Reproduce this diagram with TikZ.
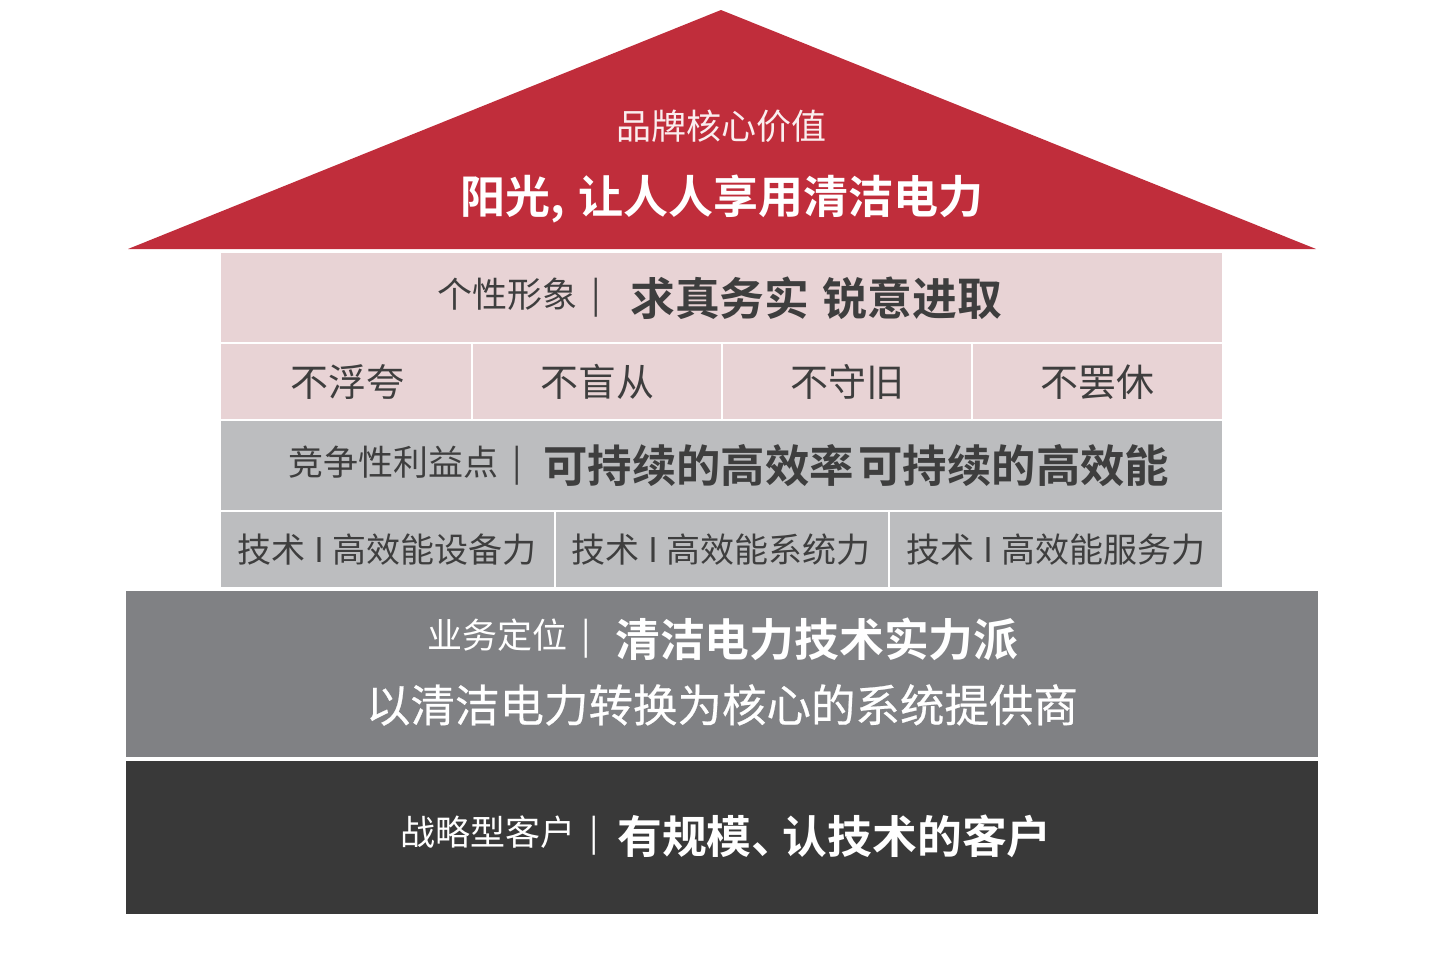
\documentclass[tikz,border=0pt]{standalone}
\usepackage{fontspec}
\newfontfamily\cjk{Noto Sans CJK SC}
\newfontfamily\cjkm[FakeBold=0.5]{Noto Sans CJK SC}
\newfontfamily\cjkb{Noto Sans CJK SC Bold}
\definecolor{roofred}{HTML}{C02D3B}
\definecolor{pinkbg}{HTML}{E8D3D5}
\definecolor{lightbg}{HTML}{BCBDBF}
\definecolor{midbg}{HTML}{808184}
\definecolor{darkbg}{HTML}{393939}
\definecolor{txtdark}{HTML}{3E3E3E}
\tikzset{
  lbl/.style={inner sep=0pt, font=\cjk\fontsize{35}{40}\selectfont},
  bld/.style={inner sep=0pt, font=\cjkb\fontsize{44.8}{50}\selectfont},
  cell/.style={inner sep=0pt, font=\cjk\fontsize{38}{44}\selectfont, text=txtdark},
  tech/.style={inner sep=0pt, font=\cjk\fontsize{34}{40}\selectfont, text=txtdark},
}
\newcommand{\pipesep}{\hspace{0.4em}|}
\begin{document}
\begin{tikzpicture}[x=1pt,y=-1pt]
\path[use as bounding box, fill=white] (0,0) rectangle (1449,959);
% roof
\fill[roofred] (128,249) -- (721,10) -- (1316,249) -- cycle;
% pink block
\fill[pinkbg] (221,253) rectangle (1222,342);
\fill[pinkbg] (221,344) rectangle (471,419);
\fill[pinkbg] (473,344) rectangle (721,419);
\fill[pinkbg] (723,344) rectangle (971,419);
\fill[pinkbg] (973,344) rectangle (1222,419);
% light gray block
\fill[lightbg] (221,421) rectangle (1222,510);
\fill[lightbg] (221,512) rectangle (554,587);
\fill[lightbg] (556,512) rectangle (888,587);
\fill[lightbg] (890,512) rectangle (1222,587);
% mid gray
\fill[midbg] (126,591) rectangle (1318,757);
% dark
\fill[darkbg] (126,761) rectangle (1318,914);

% roof texts
\node[lbl, text=white!92!roofred] (brand) at (721,126) {品牌核心价值};
\node[inner sep=0pt, font=\cjkb\fontsize{45}{52}\selectfont, text=white] (slogan) at (722,199) {阳光,\hspace{0.3em}让人人享用清洁电力};

% personality
\node[lbl, text=txtdark, anchor=west] (persl) at (437,298) {个性形象\pipesep};
\node[bld, text=txtdark, anchor=west] (persv) at (630,298) {求真务实\hspace{0.3em}锐意进取};
\node[cell] (c1) at (347,382) {不浮夸};
\node[cell] (c2) at (597,382) {不盲从};
\node[cell] (c3) at (847,382) {不守旧};
\node[cell] (c4) at (1097,382) {不罢休};

% competitive
\node[lbl, text=txtdark, anchor=west] (compl) at (288,466) {竞争性利益点\pipesep};
\node[inner sep=0pt, font=\cjkb\fontsize{44.4}{50}\selectfont, text=txtdark, anchor=west] (compv) at (543,466) {可持续的高效率\hspace{0.1em}可持续的高效能};
\node[tech] (t1) at (387,550) {技术\hspace{0.25em}I\hspace{0.25em}高效能设备力};
\node[tech] (t2) at (721,550) {技术\hspace{0.25em}I\hspace{0.25em}高效能系统力};
\node[tech] (t3) at (1056,550) {技术\hspace{0.25em}I\hspace{0.25em}高效能服务力};

% business
\node[lbl, text=white, anchor=west] (busl) at (427,639) {业务定位\pipesep};
\node[bld, text=white, anchor=west] (busv) at (615,639) {清洁电力技术实力派};
\node[inner sep=0pt, font=\cjkm\fontsize{44.5}{50}\selectfont, text=white] (busd) at (722,705) {以清洁电力转换为核心的系统提供商};

% customers
\node[lbl, text=white, anchor=west] (custl) at (400,836) {战略型客户\pipesep};
\node[bld, text=white, anchor=west] (custv) at (617,836) {有规模、\hspace{-0.3em}认技术的客户};
\end{tikzpicture}
\end{document}
